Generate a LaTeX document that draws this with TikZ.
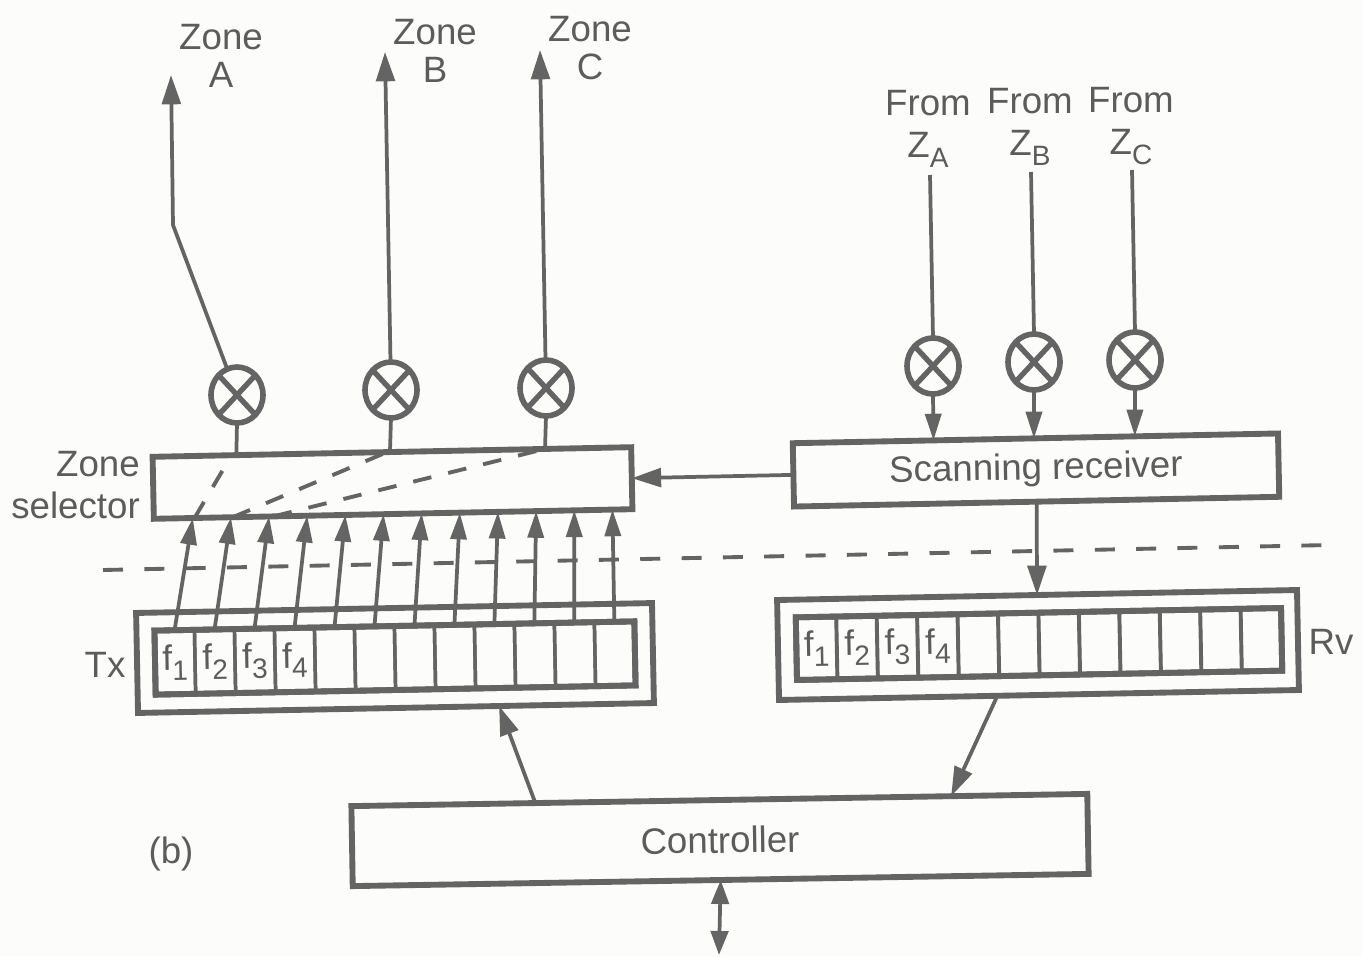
\documentclass[tikz,border=0pt]{standalone}
\usepackage{fontspec}
\setmainfont{Liberation Sans}
\usetikzlibrary{arrows.meta,calc,shapes.geometric}
\definecolor{ink}{RGB}{100,100,100}
\definecolor{txt}{RGB}{92,92,92}
\definecolor{paper}{RGB}{252,252,250}
\newcommand{\sbsc}[1]{\raisebox{-0.28em}{\fontsize{21pt}{21pt}\selectfont #1}}
\tikzset{
  heavy/.style={draw=ink,line width=4.4pt,fill=paper,inner sep=0pt,outer sep=0pt},
  cell/.style={draw=ink,line width=2.6pt,inner sep=0pt,outer sep=0pt,minimum width=30pt,minimum height=47pt,text=txt,font=\fontsize{26.5pt}{26pt}\selectfont},
  mixer/.style={ellipse,draw=ink,line width=4.2pt,fill=paper,minimum width=39pt,minimum height=42pt,inner sep=0pt,outer sep=0pt},
  cross/.style={draw=ink,line width=4pt},
  wire/.style={draw=ink,line width=2.8pt},
  arr/.style={wire,-{Triangle[length=22pt,width=14pt]}},
  arrs/.style={wire,-{Triangle[length=20pt,width=12pt]}},
  dbl/.style={wire,{Triangle[length=18pt,width=13pt]}-{Triangle[length=18pt,width=13pt]}},
  dsh/.style={draw=ink,line width=2.9pt,dash pattern=on 15pt off 16pt},
  lab/.style={text=txt,font=\fontsize{27.5pt}{29pt}\selectfont,inner sep=0pt,align=center}
}
\begin{document}
\begin{tikzpicture}[x=0.75pt,y=-0.75pt]
\useasboundingbox (0,0) rectangle (1362,956);
\fill[paper] (0,0) rectangle (1362,956);

% long dashed separator
\coordinate (dl) at (103,570);
\coordinate (dr) at (1330,545);
\draw[dsh] (dl) -- (dr);

% main boxes
\node[heavy,rotate=1.15,minimum width=359pt,minimum height=46.5pt] (zs) at (392.5,483) {};
\node[heavy,rotate=1.15,minimum width=364pt,minimum height=47.5pt,text=txt,font=\fontsize{27.5pt}{30pt}\selectfont] (sr) at (1036,470) {Scanning receiver};
\node[heavy,rotate=0.95,minimum width=552pt,minimum height=60pt,text=txt,font=\fontsize{27.5pt}{30pt}\selectfont] (ctl) at (720,840) {Controller};
\node[heavy,rotate=1.1,minimum width=387pt,minimum height=75pt] (txo) at (395,658) {};
\node[heavy,rotate=1.1,minimum width=360pt,minimum height=48pt] (txi) at (395,658) {};
\node[heavy,rotate=1.1,minimum width=390pt,minimum height=75pt] (rvo) at (1038,645) {};
\node[heavy,rotate=1.1,minimum width=364pt,minimum height=47pt] (rvi) at (1039,644) {};

% channel cells
\foreach \i/\t in {1/f\sbsc{1},2/f\sbsc{2},3/f\sbsc{3},4/f\sbsc{4},5/,6/,7/,8/,9/,10/,11/,12/}{
  \pgfmathsetmacro{\p}{(\i-0.5)/12}
  \node[cell,rotate=1.1] (tx\i) at ($(txi.west)!\p!(txi.east)$) {\t};
  \node[cell,rotate=1.1] (rv\i) at ($(rvi.west)!\p!(rvi.east)$) {\t};
}
\node[draw=ink,line width=4.4pt,rotate=1.1,minimum width=360pt,minimum height=48pt,inner sep=0pt] (txf) at (txi.center) {};
\node[draw=ink,line width=4.4pt,rotate=1.1,minimum width=364pt,minimum height=47pt,inner sep=0pt] (rvf) at (rvi.center) {};

% arrows from Tx cells to the zone selector
\foreach \i in {1,...,12}{
  \pgfmathsetmacro{\p}{(39+38.18*(\i-1))/479}
  \draw[arrs] (tx\i.north) -- ($(zs.south west)!\p!(zs.south east)$);
}

% dashed switch paths
\coordinate (da) at ($(zs.south west)!0.085!(zs.south east)$);
\coordinate (db) at ($(zs.south west)!0.165!(zs.south east)$);
\coordinate (dc) at ($(zs.south west)!0.25!(zs.south east)$);
\coordinate (ea) at ($(zs.north west)!0.165!(zs.north east)$);
\coordinate (eb) at ($(zs.north west)!0.49!(zs.north east)$);
\coordinate (ec) at ($(zs.north west)!0.82!(zs.north east)$);
\draw[dsh,dash pattern=on 14pt off 13pt] (da) -- (ea);
\draw[dsh,dash pattern=on 14pt off 13pt] (db) -- (eb);
\draw[dsh,dash pattern=on 14pt off 13pt] (dc) -- (ec);

% transmit mixers
\node[mixer] (ma) at (237,395) {};
\node[mixer] (mb) at (391,390) {};
\node[mixer] (mc) at (546,388) {};
\coordinate (zat) at (171,75);
\coordinate (zab) at (173,225);
\coordinate (zbt) at (385,52);
\coordinate (zct) at (540,50);
\draw[arr] (ma) -- (zab) -- (zat);
\draw[arr] (mb) -- (zbt);
\draw[arr] (mc) -- (zct);
\draw[wire] (ma.south) -- ($(zs.north west)!0.175!(zs.north east)$);
\draw[wire] (mb.south) -- ($(zs.north west)!0.496!(zs.north east)$);
\draw[wire] (mc.south) -- ($(zs.north west)!0.82!(zs.north east)$);

% receive mixers
\node[mixer] (mx) at (933,366) {};
\node[mixer] (my) at (1034,362) {};
\node[mixer] (mz) at (1135,360) {};
\coordinate (fa) at (930,175);
\coordinate (fb) at (1031,172);
\coordinate (fc) at (1132,170);
\draw[wire] (fa) -- (mx.north);
\draw[wire] (fb) -- (my.north);
\draw[wire] (fc) -- (mz.north);
\draw[arrs] (mx.south) -- ($(sr.north west)!0.29!(sr.north east)$);
\draw[arrs] (my.south) -- ($(sr.north west)!0.497!(sr.north east)$);
\draw[arrs] (mz.south) -- ($(sr.north west)!0.705!(sr.north east)$);

\foreach \m in {ma,mb,mc,mx,my,mz}{
  \draw[cross] (\m.north west) -- (\m.south east);
  \draw[cross] (\m.north east) -- (\m.south west);
}

% other connectors
\draw[arr] (sr.west) -- (zs.east);
\draw[arr] (sr.south) -- (rvo.north);
\draw[arr] ($(ctl.north west)!0.25!(ctl.north east)$) -- ($(txo.south west)!0.70!(txo.south east)$);
\draw[arr] ($(rvo.south west)!0.42!(rvo.south east)$) -- ($(ctl.north west)!0.815!(ctl.north east)$);
\coordinate (io) at (719,955);
\draw[dbl] (ctl.south) -- (io);

% labels
\node[lab] (la) at (221,56) {Zone\\A};
\node[lab] (lb) at (435,51) {Zone\\B};
\node[lab] (lc) at (590,48) {Zone\\C};
\node[lab] (ra) at (928,129) {From\\[2pt]Z\sbsc{A}};
\node[lab] (rb) at (1030,127) {From\\[2pt]Z\sbsc{B}};
\node[lab] (rc) at (1131,126) {From\\[2pt]Z\sbsc{C}};
\node[lab,anchor=east,align=right] (lz) at (140,485) {Zone\\[2pt]selector};
\node[lab] (ltx) at (105,665) {Tx};
\node[lab] (lrv) at (1331,642) {Rv};
\node[lab] (lbb) at (171,854) {(b)};
\end{tikzpicture}
\end{document}
